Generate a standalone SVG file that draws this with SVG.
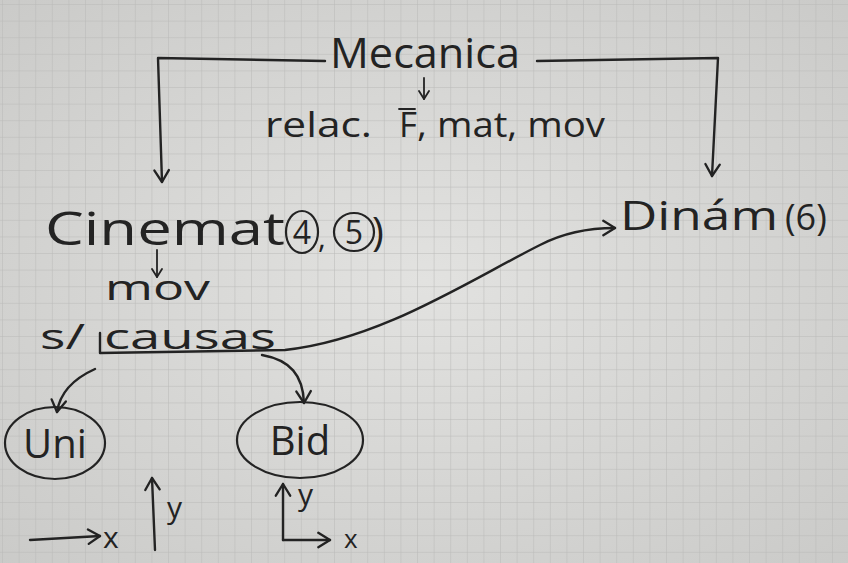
<svg xmlns="http://www.w3.org/2000/svg" width="848" height="563" viewBox="0 0 848 563">
<defs>
<pattern id="grid" width="16.6" height="16.6" patternUnits="userSpaceOnUse" x="3" y="5">
<path d="M16.6 0V16.6M0 16.6H16.6" fill="none" stroke="#b9b9b8" stroke-width="1"/>
</pattern>
<radialGradient id="shade" cx="0.5" cy="0.5" r="0.75">
<stop offset="0" stop-color="#e2e2e0"/>
<stop offset="1" stop-color="#c9c9c7"/>
</radialGradient>
<marker id="ah" viewBox="0 0 12 12" refX="9" refY="6" markerWidth="12" markerHeight="12" markerUnits="userSpaceOnUse" orient="auto">
<path d="M1 1L9 6L1 11" fill="none" stroke="#222" stroke-width="1.8" stroke-linecap="round" stroke-linejoin="round"/>
</marker>
<marker id="ahl" viewBox="0 0 20 20" refX="15" refY="10" markerWidth="18" markerHeight="18" markerUnits="userSpaceOnUse" orient="auto">
<path d="M2 2L15 10L2 18" fill="none" stroke="#222" stroke-width="2.6" stroke-linecap="round" stroke-linejoin="round"/>
</marker>
</defs>
<style>
.t{font-family:"Open Sans","Liberation Sans",sans-serif;fill:#232323}
.ln{fill:none;stroke:#232323;stroke-width:2.4;stroke-linecap:round;stroke-linejoin:round}
.thin{fill:none;stroke:#232323;stroke-width:1.8;stroke-linecap:round}
.ring{fill:none;stroke:#232323;stroke-width:2.2}
</style>
<rect width="848" height="563" fill="url(#shade)"/>
<rect width="848" height="563" fill="url(#grid)"/>

<g id="connectors">
<path class="ln" d="M325 61L158 58L162 182" marker-end="url(#ahl)"/>
<path class="ln" d="M537 61L718 58L712 176" marker-end="url(#ahl)"/>
<path class="thin" d="M424 78V99" marker-end="url(#ah)"/>
<path class="thin" d="M157 250V277" marker-end="url(#ah)"/>
<path class="ln" d="M100 333V353L285 350C380 340 470 280 540 245C565 232 590 228 615 228" marker-end="url(#ahl)"/>
<path class="ln" d="M95 369C75 378 60 392 57 412" marker-end="url(#ahl)"/>
<path class="ln" d="M262 355C290 360 303 375 304 403" marker-end="url(#ahl)"/>
<path class="ln" d="M30 540L100 536" marker-end="url(#ahl)"/>
<path class="ln" d="M155 550L152 478" marker-end="url(#ahl)"/>
<path class="ln" d="M283 540V484" marker-end="url(#ahl)"/>
<path class="ln" d="M283 540H330" marker-end="url(#ahl)"/>
</g>

<g id="mecanica">
<text class="t" x="330" y="68" font-size="42" textLength="190" lengthAdjust="spacingAndGlyphs">Mecanica</text>
</g>
<g id="relac">
<text class="t" x="265" y="137" font-size="34" textLength="107" lengthAdjust="spacingAndGlyphs">relac.</text>
<text class="t" x="399" y="137" font-size="34" textLength="18" lengthAdjust="spacingAndGlyphs">F</text>
<text class="t" x="417" y="137" font-size="34" textLength="188" lengthAdjust="spacingAndGlyphs">, mat, mov</text>
<path class="thin" d="M399 109H415"/>
</g>
<g id="cinemat">
<text class="t" x="45" y="245" font-size="46" textLength="240" lengthAdjust="spacingAndGlyphs">Cinemat</text>
<ellipse class="ring" cx="302" cy="232" rx="16" ry="21"/>
<text class="t" x="302" y="244" font-size="32" text-anchor="middle">4</text>
<text class="t" x="318" y="248" font-size="30">,</text>
<ellipse class="ring" cx="354" cy="232" rx="20" ry="19"/>
<text class="t" x="354" y="244" font-size="32" text-anchor="middle">5</text>
<text class="t" x="372" y="246" font-size="40">)</text>
</g>
<g id="mov">
<text class="t" x="105" y="300" font-size="34" textLength="105" lengthAdjust="spacingAndGlyphs">mov</text>
<text class="t" x="40" y="349" font-size="34" textLength="45" lengthAdjust="spacingAndGlyphs">s/</text>
<text class="t" x="104" y="349" font-size="34" textLength="172" lengthAdjust="spacingAndGlyphs">causas</text>
</g>
<g id="dinam">
<text class="t" x="620" y="230" font-size="40" textLength="158" lengthAdjust="spacingAndGlyphs">Dinám</text>
<text class="t" x="785" y="230" font-size="36">(6)</text>
</g>
<g id="uni">
<ellipse class="ring" cx="55" cy="443" rx="50" ry="36"/>
<text class="t" x="55" y="458" font-size="40" text-anchor="middle">Uni</text>
</g>
<g id="bid">
<ellipse class="ring" cx="300" cy="440" rx="63" ry="38"/>
<text class="t" x="300" y="455" font-size="40" text-anchor="middle">Bid</text>
</g>
<g id="axes">
<text class="t" x="103" y="548" font-size="30">x</text>
<text class="t" x="167" y="518" font-size="30">y</text>
<text class="t" x="298" y="505" font-size="30">y</text>
<text class="t" x="344" y="548" font-size="26">x</text>
</g>
</svg>
